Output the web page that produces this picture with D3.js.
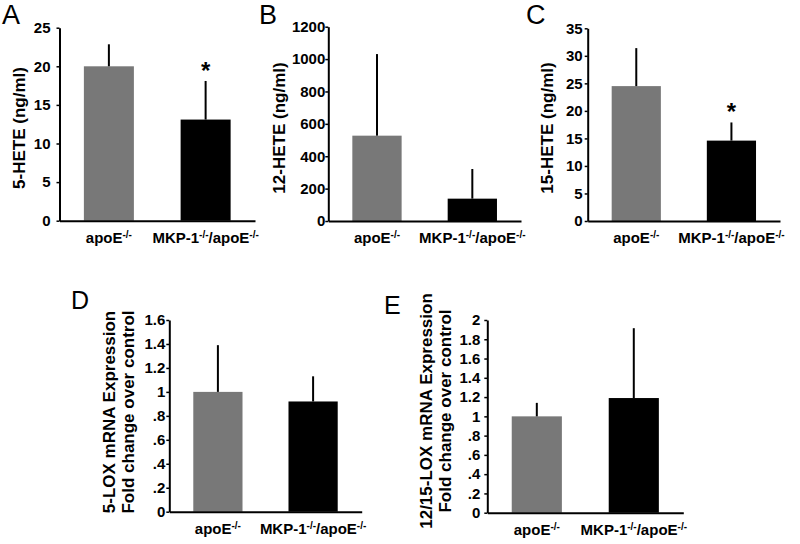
<!DOCTYPE html>
<html><head><meta charset="utf-8">
<script src="https://cdn.jsdelivr.net/npm/d3@7"></script>
<style>
body{margin:0;background:#fff}
svg{display:block}
text{font-family:"Liberation Sans",Arial,Helvetica,sans-serif}
</style>
</head><body>
<svg id="chart" width="800" height="544"></svg>
<script>
// ---------- data ----------
const categories = ["apoE-/-", "MKP-1-/-/apoE-/-"];

const hete5Values = [20, 13.1];
const hete5Errors = [2.85, 5.0];
const hete5Sig = [false, true];
const hete5Ticks = [0, 5, 10, 15, 20, 25];
const hete5TickLabels = ["0", "5", "10", "15", "20", "25"];

const hete12Values = [527, 138];
const hete12Errors = [504, 183];
const hete12Sig = [false, false];
const hete12Ticks = [0, 200, 400, 600, 800, 1000, 1200];
const hete12TickLabels = ["0", "200", "400", "600", "800", "1000", "1200"];

const hete15Values = [24.5, 14.6];
const hete15Errors = [6.9, 3.3];
const hete15Sig = [false, true];
const hete15Ticks = [0, 5, 10, 15, 20, 25, 30, 35];
const hete15TickLabels = ["0", "5", "10", "15", "20", "25", "30", "35"];

const lox5Values = [1.0, 0.92];
const lox5Errors = [0.39, 0.21];
const lox5Sig = [false, false];
const lox5Ticks = [0, 0.2, 0.4, 0.6, 0.8, 1.0, 1.2, 1.4, 1.6];
const lox5TickLabels = ["0", ".2", ".4", ".6", ".8", "1", "1.2", "1.4", "1.6"];

const lox1215Values = [1.0, 1.19];
const lox1215Errors = [0.14, 0.725];
const lox1215Sig = [false, false];
const lox1215Ticks = [0, 0.2, 0.4, 0.6, 0.8, 1.0, 1.2, 1.4, 1.6, 1.8, 2.0];
const lox1215TickLabels = ["0", ".2", ".4", ".6", ".8", "1", "1.2", "1.4", "1.6", "1.8", "2"];

const barColors = ["#787878", "#000000"];

// ---------- layout ----------
const panels = [
  {letter:"A", lx:2, ly:24, lsize:27, x0:59.5, x1:255, yTop:27.7, yBot:220.7,
   values:hete5Values, errors:hete5Errors, sig:hete5Sig, ticks:hete5Ticks, tickLabels:hete5TickLabels,
   yLabels:["5-HETE (ng/ml)"], labelX:[25], labelY:128, pad:6},
  {letter:"B", lx:259, ly:24, lsize:27, x0:328.3, x1:521, yTop:26.7, yBot:221,
   values:hete12Values, errors:hete12Errors, sig:hete12Sig, ticks:hete12Ticks, tickLabels:hete12TickLabels,
   yLabels:["12-HETE (ng/ml)"], labelX:[285], labelY:128, pad:0},
  {letter:"C", lx:526, ly:24, lsize:27, x0:587.7, x1:780, yTop:28.3, yBot:221,
   values:hete15Values, errors:hete15Errors, sig:hete15Sig, ticks:hete15Ticks, tickLabels:hete15TickLabels,
   yLabels:["15-HETE (ng/ml)"], labelX:[553], labelY:128, pad:2},
  {letter:"D", lx:71, ly:309, lsize:25, x0:169.3, x1:361.7, yTop:320, yBot:511.7,
   values:lox5Values, errors:lox5Errors, sig:lox5Sig, ticks:lox5Ticks, tickLabels:lox5TickLabels,
   yLabels:["5-LOX mRNA Expression","Fold change over control"], labelX:[115,134], labelY:412, pad:1},
  {letter:"E", lx:384, ly:314, lsize:25, x0:487.3, x1:683.3, yTop:320, yBot:512.7,
   values:lox1215Values, errors:lox1215Errors, sig:lox1215Sig, ticks:lox1215Ticks, tickLabels:lox1215TickLabels,
   yLabels:["12/15-LOX mRNA Expression","Fold change over control"], labelX:[432,451], labelY:411, pad:4}
];

const svg = d3.select("#chart");
const FS = 15;

function addCategoryLabel(sel, label) {
  const parts = label.split("-/-");
  let raised = false;
  parts.forEach((p, i) => {
    if (p.length) {
      const t = sel.append("tspan").attr("font-size", FS).text(p);
      if (raised) { t.attr("dy", 5); raised = false; }
    }
    if (i < parts.length - 1) {
      sel.append("tspan").attr("font-size", 10).attr("dy", raised ? 0 : -5).text("-/-");
      raised = true;
    }
  });
}

panels.forEach(p => {
  const g = svg.append("g");
  const ymax = p.ticks[p.ticks.length - 1];
  const y = d3.scaleLinear().domain([0, ymax]).range([p.yBot, p.yTop]);
  const x = d3.scaleBand().domain(categories).range([p.x0, p.x1])
    .paddingInner(0.483).paddingOuter(0.252);

  g.append("text").attr("x", p.lx).attr("y", p.ly)
    .attr("font-size", p.lsize).attr("fill", "#000").text(p.letter);

  g.selectAll("rect.bar").data(p.values).join("rect")
    .attr("class", "bar")
    .attr("x", (d, i) => x(categories[i]))
    .attr("width", x.bandwidth())
    .attr("y", d => y(d))
    .attr("height", d => y(0) - y(d))
    .attr("fill", (d, i) => barColors[i]);

  g.selectAll("line.err").data(p.values).join("line")
    .attr("class", "err")
    .attr("x1", (d, i) => x(categories[i]) + x.bandwidth() / 2)
    .attr("x2", (d, i) => x(categories[i]) + x.bandwidth() / 2)
    .attr("y1", d => y(d))
    .attr("y2", (d, i) => y(d + p.errors[i]))
    .attr("stroke", "#000").attr("stroke-width", 2);

  p.values.forEach((d, i) => {
    if (!p.sig[i]) return;
    g.append("text")
      .attr("x", x(categories[i]) + x.bandwidth() / 2)
      .attr("y", y(d + p.errors[i]) - 2)
      .attr("text-anchor", "middle")
      .attr("font-size", 24).attr("font-weight", "bold")
      .text("*");
  });

  const yAxis = d3.axisLeft(y).tickValues(p.ticks)
    .tickFormat((d, i) => p.tickLabels[i])
    .tickSize(3).tickSizeOuter(0).tickPadding(p.pad);
  const ya = g.append("g").attr("transform", `translate(${p.x0},0)`).call(yAxis);
  ya.attr("font-family", null).attr("font-size", null);
  ya.select(".domain").attr("stroke", "#000").attr("stroke-width", 2);
  ya.selectAll(".tick line").attr("stroke", "#000").attr("stroke-width", 1.5);
  ya.selectAll(".tick text").attr("font-size", FS).attr("font-weight", "bold")
    .attr("fill", "#000");

  const xAxis = d3.axisBottom(x).tickSize(0).tickFormat("");
  const xa = g.append("g").attr("transform", `translate(0,${p.yBot})`).call(xAxis);
  xa.select(".domain").attr("stroke", "#000").attr("stroke-width", 2);

  categories.forEach(c => {
    const t = g.append("text")
      .attr("x", x(c) + x.bandwidth() / 2)
      .attr("y", p.yBot + 22)
      .attr("text-anchor", "middle")
      .attr("font-weight", "bold").attr("font-size", FS).attr("fill", "#000");
    addCategoryLabel(t, c);
  });

  p.yLabels.forEach((lab, i) => {
    g.append("text")
      .attr("transform", `translate(${p.labelX[i]},${p.labelY}) rotate(-90)`)
      .attr("text-anchor", "middle")
      .attr("font-weight", "bold").attr("font-size", 17).attr("fill", "#000")
      .text(lab);
  });
});
</script>
</body></html>
